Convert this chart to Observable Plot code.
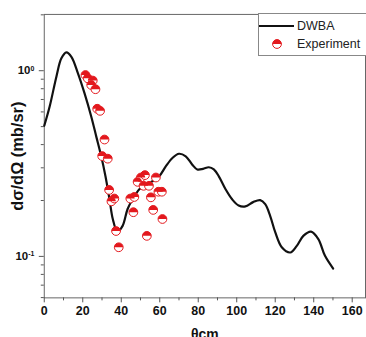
<!DOCTYPE html>
<html>
<head>
<meta charset="utf-8">
<script src="https://cdn.jsdelivr.net/npm/d3@7"></script>
<script src="https://cdn.jsdelivr.net/npm/@observablehq/plot@0.6"></script>
<style>
  html, body { margin: 0; padding: 0; background: #fff; overflow: hidden; }
  #wrap { position: relative; width: 366px; height: 337px; overflow: hidden; }
  #wrap svg { font-family: "Liberation Sans", Arial, sans-serif; }
  g[aria-label="x-axis tick label"] text, g[aria-label="y-axis tick label"] text { font-weight: bold; }
  g[aria-label="x-axis label"] text, g[aria-label="y-axis label"] text { font-weight: bold; }
  #legend { position: absolute; left: 258px; top: 13px; width: 130px; height: 41px; border: 1px solid #888; background: #fff;
            font-family: "Liberation Sans", Arial, sans-serif; font-size: 12.5px; color: #222; }
  #legend .row { position: absolute; left: 0; height: 16px; display: flex; align-items: center; }
</style>
</head>
<body>
<div id="wrap"></div>
<script>
// DWBA calculation (theta c.m. in degrees, dσ/dΩ in mb/sr)
const dwbaTheta = [0, 2.8, 6.3, 8.9, 11.5, 14.1, 17.5, 20.9, 24.4, 27.0, 29.6, 31.8, 33.9, 35.6, 38.0, 40.7, 43.3, 45.9, 49.4, 52.8, 56.2, 59.7, 63.2, 66.6, 70.0, 73.5, 76.9, 79.5, 82.5, 85.5, 88.1, 90.7, 94.2, 97.6, 101.0, 104.5, 108.5, 112.2, 114.8, 117.4, 120.0, 123.4, 127.8, 131.2, 134.6, 138.6, 142.4, 145.8, 150.1];
const dwbaValue = [0.505, 0.641, 0.929, 1.166, 1.255, 1.188, 0.968, 0.757, 0.567, 0.443, 0.346, 0.270, 0.203, 0.159, 0.136, 0.146, 0.180, 0.203, 0.230, 0.244, 0.254, 0.270, 0.306, 0.339, 0.357, 0.346, 0.312, 0.294, 0.296, 0.302, 0.294, 0.270, 0.230, 0.203, 0.188, 0.186, 0.196, 0.201, 0.191, 0.165, 0.135, 0.112, 0.105, 0.114, 0.129, 0.136, 0.124, 0.101, 0.086];

// Experimental points
const expTheta = [21.4, 22.6, 25.2, 24.4, 26.6, 27.5, 29.0, 31.3, 30.1, 33.0, 33.7, 34.9, 36.4, 37.3, 38.7, 44.7, 46.8, 46.3, 48.5, 50.2, 52.3, 51.6, 54.4, 58.0, 55.4, 56.6, 59.3, 61.1, 61.4, 53.3];
const expValue = [0.948, 0.910, 0.885, 0.838, 0.795, 0.624, 0.608, 0.426, 0.347, 0.336, 0.228, 0.198, 0.205, 0.137, 0.112, 0.205, 0.209, 0.173, 0.252, 0.266, 0.274, 0.240, 0.240, 0.266, 0.208, 0.178, 0.223, 0.223, 0.159, 0.129];

// Axis ticks
const xMajorTicks = [0, 20, 40, 60, 80, 100, 120, 140, 160];
const xMinorTicks = [10, 30, 50, 70, 90, 110, 130, 150];
const yMajorTicks = [0.1, 1];
const yMinorTicks = [0.06, 0.07, 0.08, 0.09, 0.2, 0.3, 0.4, 0.5, 0.6, 0.7, 0.8, 0.9, 2];

const seriesNames = ["DWBA", "Experiment"];
const red = "#e3181d";

const dwba = dwbaTheta.map((t, i) => ({theta: t, value: dwbaValue[i]}));
const exp = expTheta.map((t, i) => ({theta: t, value: expValue[i]}));

// upper half-disc symbol
const halfTop = {
  draw(ctx, size) {
    const r = Math.sqrt(size / Math.PI);
    ctx.moveTo(r, 0);
    ctx.arc(0, 0, r, 0, Math.PI, true);
    ctx.closePath();
  }
};

const chart = Plot.plot({
  width: 368,
  height: 348,
  marginLeft: 44,
  marginRight: 1,
  marginTop: 14,
  marginBottom: 49,
  x: {domain: [0, 166.9]},
  y: {type: "log", domain: [0.0598, 2.01]},
  style: {fontFamily: "Liberation Sans, Arial, sans-serif", color: "#111", background: "#fff"},
  marks: [
    Plot.frame({stroke: "#666"}),
    Plot.axisX({ticks: xMajorTicks, tickSize: 5, tickPadding: 3, fontSize: 12.5, stroke: "#555",
                label: "θcm", labelAnchor: "center", labelArrow: "none", labelOffset: 41}),
    Plot.axisX({ticks: xMinorTicks, tickSize: 3, tickFormat: () => "", label: null, stroke: "#555"}),
    Plot.axisY({ticks: yMajorTicks, tickSize: 5, tickPadding: 5, fontSize: 11.5, stroke: "#555",
                tickFormat: d => "10" + Math.round(Math.log10(d)),
                label: "dσ/dΩ (mb/sr)", labelAnchor: "center", labelArrow: "none", labelOffset: 33}),
    Plot.axisY({ticks: yMinorTicks, tickSize: 3, tickFormat: () => "", label: null, stroke: "#555"}),
    Plot.line(dwba, {x: "theta", y: "value", curve: "catmull-rom", stroke: "#111", strokeWidth: 2.2}),
    Plot.dot(exp, {x: "theta", y: "value", r: 4.4, fill: "#fff", stroke: red, strokeWidth: 1}),
    Plot.dot(exp, {x: "theta", y: "value", r: 4.4, symbol: halfTop, fill: red})
  ]
});

// superscript exponents on y tick labels
d3.select(chart).selectAll('g[aria-label="y-axis tick label"] text').each(function() {
  const t = d3.select(this);
  const s = t.text();
  if (!s || s.length < 3) return;
  const e = s.slice(2);
  t.text("10");
  t.append("tspan").attr("dy", "-0.55em").attr("font-size", "7px").text(e);
});
d3.select(chart).selectAll('g[aria-label="x-axis label"] text').attr("font-size", "14px");
d3.select(chart).selectAll('g[aria-label="y-axis label"] text').attr("font-size", "16.5px");

const wrap = document.getElementById("wrap");
wrap.appendChild(chart);

// legend
const legend = document.createElement("div");
legend.id = "legend";
const ns = "http://www.w3.org/2000/svg";
seriesNames.forEach((name, i) => {
  const row = document.createElement("div");
  row.className = "row";
  row.style.top = (i === 0 ? 4 : 22) + "px";
  const sw = document.createElementNS(ns, "svg");
  sw.setAttribute("width", 36); sw.setAttribute("height", 16);
  if (i === 0) {
    const l = document.createElementNS(ns, "line");
    l.setAttribute("x1", 0); l.setAttribute("x2", 35); l.setAttribute("y1", 8); l.setAttribute("y2", 8);
    l.setAttribute("stroke", "#111"); l.setAttribute("stroke-width", 2.2);
    sw.appendChild(l);
  } else {
    const c = document.createElementNS(ns, "circle");
    c.setAttribute("cx", 18); c.setAttribute("cy", 8); c.setAttribute("r", 4.4);
    c.setAttribute("fill", "#fff"); c.setAttribute("stroke", red);
    sw.appendChild(c);
    const p = document.createElementNS(ns, "path");
    p.setAttribute("d", "M22.4,8A4.4,4.4 0 0 0 13.6,8Z");
    p.setAttribute("fill", red);
    sw.appendChild(p);
  }
  row.appendChild(sw);
  const tx = document.createElement("span");
  tx.style.marginLeft = "2px";
  tx.textContent = name;
  row.appendChild(tx);
  legend.appendChild(row);
});
wrap.appendChild(legend);
</script>
</body>
</html>
